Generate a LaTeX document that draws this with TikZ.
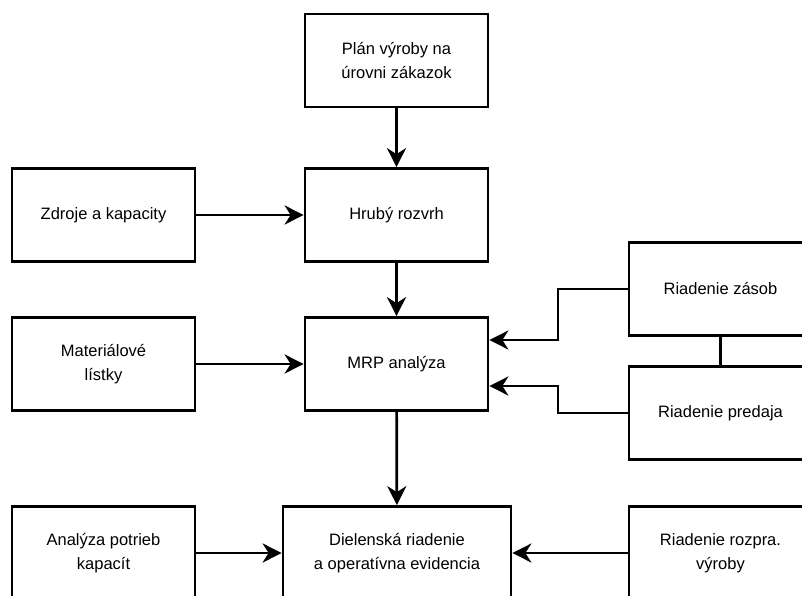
\documentclass[tikz,border=0pt]{standalone}
\usepackage{fontspec}
\setmainfont{Liberation Sans}
\usetikzlibrary{arrows.meta,calc}
\begin{document}
\begin{tikzpicture}[x=1pt,y=-1pt,
  box/.style={draw, line width=2.7pt, minimum width=183pt, minimum height=93pt, align=center, inner sep=0pt, font=\fontsize{16.5}{24}\selectfont},
  conn/.style={line width=2.7pt, -{Stealth[length=19pt,width=19pt,inset=6pt]}},
  plain/.style={line width=2.7pt}]
\useasboundingbox (0,0) rectangle (802,596);
\clip (0,0) rectangle (802,596);
\node[box] (plan) at (396.5,60.5) {Plán výroby na\\úrovni zákazok};
\node[box] (hruby) at (396.5,215) {Hrubý rozvrh};
\node[box] (zdroje) at (103.5,215) {Zdroje a kapacity};
\node[box] (mrp) at (396.5,364) {MRP analýza};
\node[box] (mat) at (103.5,364) {Materiálové\\lístky};
\node[box] (zasob) at (720.5,289) {Riadenie zásob};
\node[box] (predaja) at (720.5,413) {Riadenie predaja};
\node[box] (anal) at (103.5,553) {Analýza potrieb\\kapacít};
\node[box, minimum width=228pt] (diel) at (397,553) {Dielenská riadenie\\a operatívna evidencia};
\node[box] (rozpra) at (720.5,553) {Riadenie rozpra.\\výroby};
\draw[conn] (plan) -- (hruby);
\draw[conn] (zdroje) -- (hruby);
\draw[conn] (hruby) -- (mrp);
\draw[conn] (mat) -- (mrp);
\draw[conn] (mrp) -- (diel);
\draw[conn] (anal) -- (diel);
\draw[conn] (rozpra) -- (diel);
\draw[plain] (zasob.south) -- (predaja.north);
\coordinate (bendx) at (558,0);
\draw[conn] (zasob.west) -| ($(bendx |- mrp.center)+(0,-24)$) -- ($(mrp.east)+(0,-24)$);
\draw[conn] (predaja.west) -| ($(bendx |- mrp.center)+(0,22)$) -- ($(mrp.east)+(0,22)$);
\end{tikzpicture}
\end{document}
